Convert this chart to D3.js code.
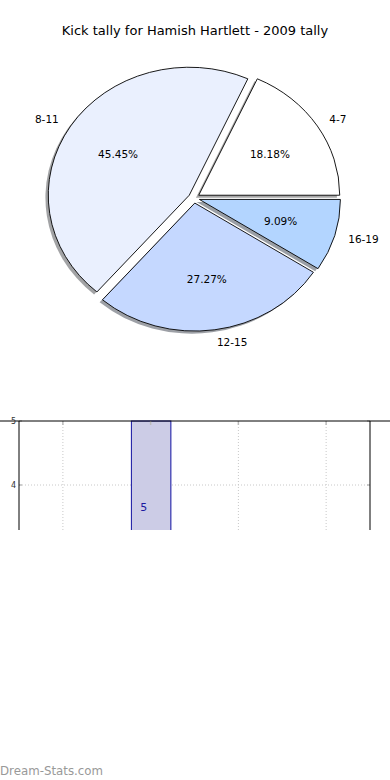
<!DOCTYPE html>
<html><head><meta charset="utf-8">
<script src="https://cdn.jsdelivr.net/npm/d3@7/dist/d3.min.js"></script>
<style>body{margin:0;background:#fff}svg{display:block;font-family:"DejaVu Sans",sans-serif}</style>
</head><body>
<svg id="c" width="390" height="780"></svg>
<script>
// ---- data ----
const title = "Kick tally for Hamish Hartlett - 2009 tally";
const categories = ["4-7", "8-11", "12-15", "16-19"];
const counts = [2, 5, 3, 1];
const sliceColors = ["#ffffff", "#eaf0fe", "#c5d8ff", "#b3d5ff"];
const barX = [1];
const barValues = [5];
const barLabels = ["5"];
const xTickValues = [0, 1, 2, 3];
const yTickValues = [4, 5];
const watermark = "Dream-Stats.com";

(function () {
const svg = d3.select("#c");

// ---- title ----
svg.append("text").attr("x", 195).attr("y", 30).attr("text-anchor", "middle")
  .attr("dominant-baseline", "central").attr("font-size", 13).attr("fill", "#000").text(title);

// ---- pie ----
const cx = 194, cy = 198, rx = 141, ry = 128, R = 100, explode = 0.04;
const pie = d3.pie().sort(null).startAngle(Math.PI / 2).endAngle(Math.PI / 2 - 2 * Math.PI);
const arcs = pie(counts);
const arc = d3.arc().innerRadius(0).outerRadius(R);
const total = d3.sum(counts);
const mid = d => (d.startAngle + d.endAngle) / 2;

const pieG = svg.append("g");
function shade(c) { const k = d3.rgb(c); return d3.rgb(k.r * 0.3, k.g * 0.3, k.b * 0.3).toString(); }
arcs.forEach((d, i) => {
  const a = mid(d);
  const ox = cx + explode * rx * Math.sin(a) - 0.02 * rx;
  const oy = cy - explode * ry * Math.cos(a) + 0.02 * ry;
  pieG.append("path").attr("d", arc(d))
    .attr("transform", `translate(${ox},${oy}) scale(${rx / R},${ry / R})`)
    .attr("fill", shade(sliceColors[i])).attr("fill-opacity", 0.5);
});
arcs.forEach((d, i) => {
  const a = mid(d);
  const ox = cx + explode * rx * Math.sin(a);
  const oy = cy - explode * ry * Math.cos(a);
  pieG.append("path").attr("d", arc(d))
    .attr("transform", `translate(${ox},${oy}) scale(${rx / R},${ry / R})`)
    .attr("fill", sliceColors[i]).attr("stroke", "#000").attr("stroke-width", 0.9)
    .attr("vector-effect", "non-scaling-stroke");
});
arcs.forEach((d, i) => {
  const a = mid(d), s = Math.sin(a), c = Math.cos(a);
  const lx = cx + (explode + 1.1) * rx * s, ly = cy - (explode + 1.1) * ry * c;
  pieG.append("text").attr("x", lx).attr("y", ly)
    .attr("text-anchor", s > 0 ? "start" : "end").attr("dominant-baseline", "central")
    .attr("font-size", 10.5).text(categories[i]);
  const px = cx + (explode + 0.6) * rx * s, py = cy - (explode + 0.6) * ry * c;
  pieG.append("text").attr("x", px).attr("y", py)
    .attr("text-anchor", "middle").attr("dominant-baseline", "central")
    .attr("font-size", 10.5).text((counts[i] / total * 100).toFixed(2) + "%");
});

// ---- bar chart (clipped) ----
const left = 19, right = 370, axTop = 421, clipBottom = 530;
const x = d3.scaleLinear().domain([-0.5, 3.5]).range([left, right]);
const y = d3.scaleLinear().domain([5, 4]).range([axTop, 485]);
svg.append("defs").append("clipPath").attr("id", "clipB")
  .append("rect").attr("x", 0).attr("y", axTop - 10).attr("width", 390).attr("height", clipBottom - axTop + 10);
const bg = svg.append("g").attr("clip-path", "url(#clipB)");
bg.selectAll(".vg").data(xTickValues).join("line")
  .attr("x1", d => x(d)).attr("x2", d => x(d)).attr("y1", axTop).attr("y2", clipBottom + 50)
  .attr("stroke", "#c8c8c8").attr("stroke-width", 1).attr("stroke-dasharray", "1,2");
bg.selectAll(".hg").data(yTickValues.filter(v => v < 5)).join("line")
  .attr("x1", left).attr("x2", right).attr("y1", d => y(d)).attr("y2", d => y(d))
  .attr("stroke", "#c8c8c8").attr("stroke-width", 1).attr("stroke-dasharray", "1,2");
const bw = 0.45;
bg.selectAll(".bar").data(barValues).join("rect")
  .attr("x", (d, i) => x(barX[i] - bw / 2) + 0.5).attr("width", x(bw) - x(0))
  .attr("y", d => y(d)).attr("height", d => y(0) - y(d))
  .attr("fill", "#ccccE6").attr("stroke", "#1010a0").attr("stroke-width", 1);
bg.selectAll(".bl").data(barValues).join("text")
  .attr("x", (d, i) => x(barX[i]) - 7).attr("y", 507).attr("text-anchor", "middle")
  .attr("dominant-baseline", "central").attr("font-size", 11).attr("fill", "#1a1aa0")
  .text((d, i) => barLabels[i]);
bg.selectAll(".xt").data(xTickValues).join("line")
  .attr("x1", d => x(d)).attr("x2", d => x(d)).attr("y1", axTop).attr("y2", axTop + 4)
  .attr("stroke", "#bbb").attr("stroke-width", 1.5);
yTickValues.forEach(v => {
  bg.append("line").attr("x1", left).attr("x2", left + 3).attr("y1", y(v)).attr("y2", y(v)).attr("stroke", "#bbb").attr("stroke-width", 1.5);
  bg.append("line").attr("x1", right - 3).attr("x2", right).attr("y1", y(v)).attr("y2", y(v)).attr("stroke", "#bbb").attr("stroke-width", 1.5);
});
bg.append("line").attr("x1", left).attr("x2", left).attr("y1", axTop).attr("y2", clipBottom).attr("stroke", "#000");
bg.append("line").attr("x1", right).attr("x2", right).attr("y1", axTop).attr("y2", clipBottom).attr("stroke", "#000");
svg.append("line").attr("x1", 0).attr("x2", 390).attr("y1", axTop).attr("y2", axTop).attr("stroke", "#000");
svg.selectAll(".yl").data(yTickValues).join("text")
  .attr("x", left - 3).attr("y", d => y(d)).attr("text-anchor", "end")
  .attr("dominant-baseline", "central").attr("font-size", 8).attr("fill", "#333").text(d => d);

// ---- watermark ----
svg.append("text").attr("x", 0).attr("y", 771).attr("dominant-baseline", "central")
  .attr("font-size", 11.8).attr("fill", "#999").text(watermark);
})();
</script>
</body></html>
